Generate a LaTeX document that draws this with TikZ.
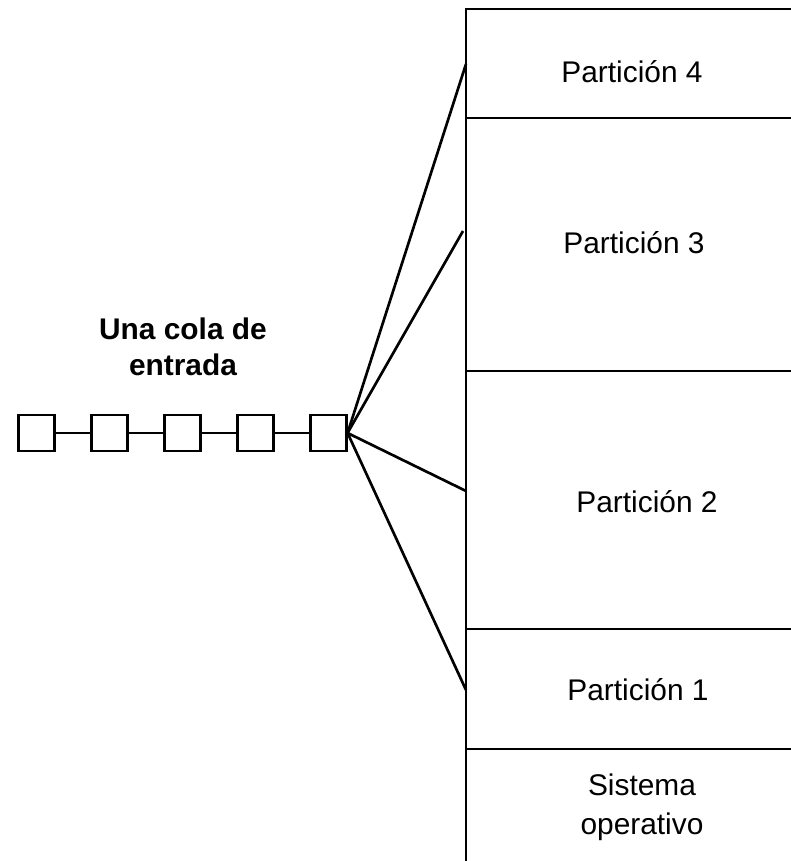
\documentclass[tikz,border=0pt]{standalone}
\usepackage{fontspec}
\setmainfont{Liberation Sans}
\usepackage{tikz}
\usetikzlibrary{positioning}
\definecolor{memline}{RGB}{0,0,0}

\begin{document}
\begin{tikzpicture}[x=0.75pt, y=0.75pt,
    qbox/.style={draw=memline, line width=2pt, minimum size=27pt, inner sep=0pt},
    link/.style={draw=memline, line width=2pt},
    parttext/.style={font=\fontsize{22.4}{29.5}\selectfont, align=center},
  ]
  \useasboundingbox (0,0) rectangle (791,861);

  % Memory column (runs past the right and bottom edges)
  \draw[link] (820,852) -- (466,852) -- (466,-10);
  \draw[link] (466,743) -- (820,743);
  \draw[link] (466,490) -- (820,490);
  \draw[link] (466,232) -- (820,232);
  \draw[link] (466,112) -- (820,112);

  % Partition labels
  \node[parttext] (part4) at (632,789) {Partición 4};
  \node[parttext] (part3) at (634,618) {Partición 3};
  \node[parttext] (part2) at (647,359) {Partición 2};
  \node[parttext] (part1) at (638,171) {Partición 1};
  \node[parttext] (sisop) at (642,54) {Sistema\\operativo};

  % Input queue
  \node[qbox] (q1) at (36.5,428) {};
  \node[qbox, right=25.7pt of q1] (q2) {};
  \node[qbox, right=25.7pt of q2] (q3) {};
  \node[qbox, right=25.7pt of q3] (q4) {};
  \node[qbox, right=25.7pt of q4] (q5) {};
  \foreach \a/\b in {q1/q2, q2/q3, q3/q4, q4/q5}
    \draw[link] (\a) -- (\b);

  \node[parttext, font=\fontsize{22.4}{27}\selectfont\bfseries] (cola) at (183,514) {Una cola de\\entrada};

  % Fan-out to the partitions
  \coordinate (in4) at (466,797);
  \coordinate (in3) at (463,630);
  \coordinate (in2) at (466,370);
  \coordinate (in1) at (466,171);
  \foreach \p in {in4, in3, in2, in1}
    \draw[link] (q5.east) -- (\p);
\end{tikzpicture}
\end{document}
